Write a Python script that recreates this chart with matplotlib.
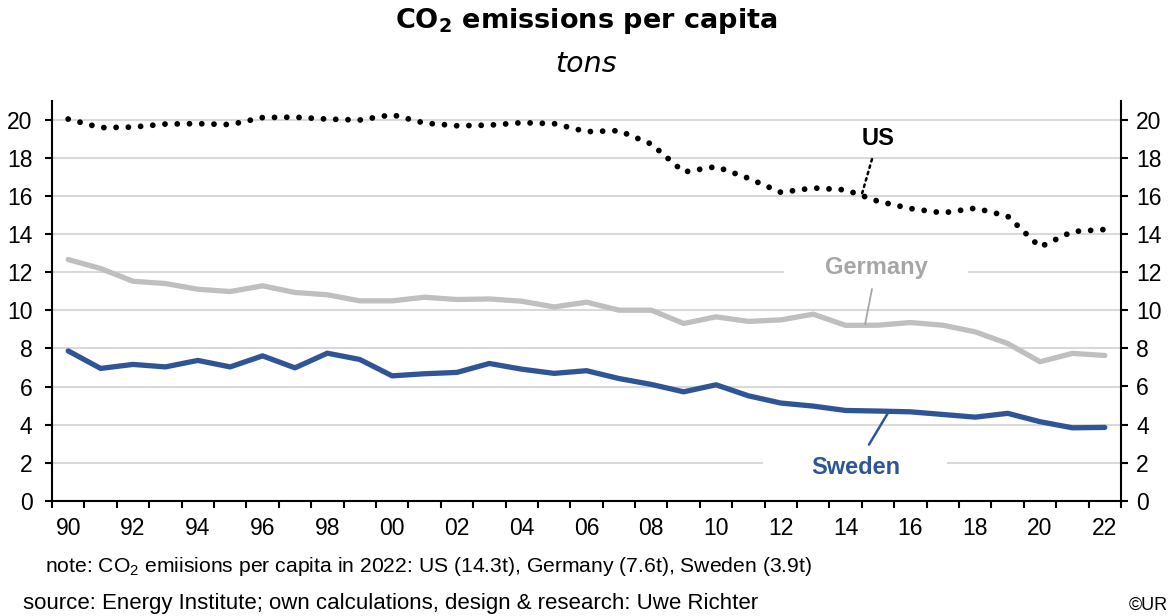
import matplotlib
matplotlib.use('Agg')
import matplotlib.pyplot as plt
import numpy as np

# Dane (t CO2 na mieszkanca)
years = list(range(1990, 2023))
us = [20.05, 19.60, 19.63, 19.79, 19.81, 19.76, 20.13, 20.15, 20.05, 20.00,
      20.28, 19.84, 19.70, 19.73, 19.86, 19.81, 19.39, 19.44, 18.74, 17.27,
      17.55, 16.94, 16.20, 16.43, 16.33, 15.73, 15.35, 15.12, 15.37, 14.95,
      13.33, 14.14, 14.25]
germany = [12.67, 12.20, 11.53, 11.41, 11.11, 10.99, 11.29, 10.94, 10.82, 10.50,
           10.50, 10.69, 10.57, 10.60, 10.48, 10.18, 10.43, 10.01, 10.01, 9.31,
           9.66, 9.42, 9.50, 9.80, 9.21, 9.22, 9.36, 9.22, 8.87, 8.26,
           7.30, 7.74, 7.63]
sweden = [7.87, 6.95, 7.16, 7.03, 7.37, 7.03, 7.61, 6.98, 7.75, 7.42,
          6.56, 6.67, 6.74, 7.21, 6.91, 6.69, 6.83, 6.42, 6.11, 5.72,
          6.09, 5.51, 5.13, 4.97, 4.74, 4.71, 4.67, 4.53, 4.39, 4.59,
          4.15, 3.83, 3.85]
y_ticks = list(range(0, 21, 2))
year_labels = [f"{y % 100:02d}" for y in years[::2]]

BLUE = '#2f5597'
GREY = '#bfbfbf'
GREY_TXT = '#a6a6a6'
GRID = '#d9d9d9'

plt.rcParams['font.family'] = ['Liberation Sans', 'DejaVu Sans']
plt.rcParams['mathtext.fontset'] = 'custom'
plt.rcParams['mathtext.rm'] = 'Liberation Sans'
plt.rcParams['mathtext.bf'] = 'Liberation Sans:bold'

W, H = 1172, 616
fig = plt.figure(figsize=(W / 100, H / 100), dpi=100)
ax = fig.add_axes([52 / W, 1 - 500.7 / H, (1121 - 52) / W, (500.7 - 101) / H])

x = np.arange(len(years))

# 1. Linie
ax.plot(x, germany, color=GREY, lw=3.8, solid_capstyle='round', solid_joinstyle='round', zorder=3)
ax.plot(x, sweden, color=BLUE, lw=3.8, solid_capstyle='round', solid_joinstyle='round', zorder=4)
ax.plot(x, us, color='black', lw=4.2, linestyle=(0, (0.001, 2.1)),
        dash_capstyle='round', zorder=5)

# 2. Osie
ax.set_xlim(-0.5, len(years) - 0.5)
ax.set_ylim(0, 21)
ax.set_yticks(y_ticks)
ax.yaxis.grid(True, color=GRID, lw=1.5)
ax.set_axisbelow(True)

ax.set_xticks(np.arange(-0.5, len(years), 1))
ax.set_xticklabels([])
ax.set_xticks(x[::2], minor=True)
ax.set_xticklabels(year_labels, minor=True)
ax.tick_params(axis='x', which='major', direction='out', length=5, width=1.5)
ax.tick_params(axis='x', which='minor', length=0, pad=12, labelsize=16.5)
ax.tick_params(axis='y', direction='out', length=5, width=1.5, pad=9, labelsize=16.5)

for side in ['top', 'right']:
    ax.spines[side].set_visible(False)
for side in ['left', 'bottom']:
    ax.spines[side].set_linewidth(1.5)

ax2 = ax.twinx()
ax2.set_ylim(0, 21)
ax2.set_yticks(y_ticks)
ax2.tick_params(axis='y', direction='out', length=5, width=1.5, pad=6, labelsize=16.5)
for side in ['top', 'left', 'bottom']:
    ax2.spines[side].set_visible(False)
ax2.spines['right'].set_linewidth(1.5)

# 3. Etykiety serii z odnosnikami (przerwa w siatce pod etykieta)
half = 2.84
ax.hlines(12, 24.94 - half, 24.94 + half, color='white', lw=4, zorder=1)
ax.hlines(2, 24.3 - half, 24.3 + half, color='white', lw=4, zorder=1)

ax.annotate('US', xy=(24.5, 16.1), xytext=(25.0, 19.05), ha='center', va='center',
            fontsize=17, fontweight='bold', color='black',
            arrowprops=dict(arrowstyle='-', ls=':', lw=1.8, color='black',
                            shrinkA=5, shrinkB=0))
ax.annotate('Germany', xy=(24.6, 9.27), xytext=(24.94, 12.23), ha='center', va='center',
            fontsize=17, fontweight='bold', color=GREY_TXT,
            arrowprops=dict(arrowstyle='-', lw=1.3, color=GREY_TXT,
                            shrinkA=5, shrinkB=0))
ax.annotate('Sweden', xy=(25.3, 4.59), xytext=(24.3, 1.76), ha='center', va='center',
            fontsize=17, fontweight='bold', color=BLUE,
            arrowprops=dict(arrowstyle='-', lw=1.8, color=BLUE,
                            shrinkA=7, shrinkB=0))

# 4. Tytul, podtytul, przypisy
fig.text(0.5, 1 - 21 / H, r'CO$_\mathbf{2}$ emissions per capita', ha='center', va='center',
         family='DejaVu Sans', fontweight='bold', fontsize=19.5, math_fontfamily='dejavusans')
fig.text(0.5, 1 - 64 / H, 'tons', ha='center', va='center',
         family='DejaVu Sans', style='italic', fontsize=20.5)
fig.text(45 / W, 1 - 566 / H,
         r'note: CO$_2$ emiisions per capita in 2022: US (14.3t), Germany (7.6t), Sweden (3.9t)',
         ha='left', va='center', fontsize=15.25, math_fontfamily='custom')
fig.text(23 / W, 1 - 603 / H,
         'source: Energy Institute; own calculations, design & research: Uwe Richter',
         ha='left', va='center', fontsize=16)
fig.text(1168 / W, 1 - 605 / H, '©UR', ha='right', va='center', fontsize=13)

fig.savefig('out.png', dpi=100)
plt.close(fig)
